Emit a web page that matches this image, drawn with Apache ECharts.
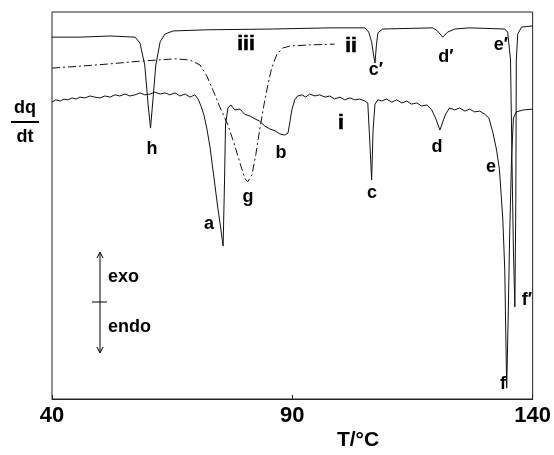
<!DOCTYPE html>
<html>
<head>
<meta charset="utf-8">
<script src="https://cdn.jsdelivr.net/npm/echarts@6/dist/echarts.min.js"></script>
<style>
  html, body { margin: 0; padding: 0; background: #fff; }
  #dsc { width: 554px; height: 455px; }
</style>
</head>
<body>
<div id="dsc"></div>
<script>
var xTicks = [40, 90, 140];

// curve i: [T (°C), dq/dt (arb.)]
var curveI = [
  [40.0, 76.7], [40.8, 77.3], [41.7, 77.0], [42.5, 77.5], [43.3, 77.3], [44.2, 77.8],
  [45.0, 77.5], [45.8, 78.0], [46.9, 77.8], [47.9, 78.3], [48.9, 78.0], [50.0, 77.8],
  [51.0, 78.3], [52.1, 78.0], [53.1, 78.6], [54.1, 78.3], [55.2, 78.8], [56.2, 78.3],
  [57.3, 78.6], [58.3, 79.1], [59.3, 78.6], [60.4, 78.8], [61.4, 79.3], [62.5, 78.8],
  [63.5, 79.1], [64.5, 78.6], [65.6, 79.1], [66.6, 78.3], [67.7, 78.8], [68.7, 78.0],
  [69.7, 78.6], [70.4, 77.5], [71.0, 75.7], [71.6, 73.4], [72.2, 70.0], [72.9, 64.9],
  [73.7, 57.1], [74.5, 49.4], [75.1, 44.2], [75.6, 39.5], [75.9, 56.6], [76.1, 70.8],
  [76.6, 75.2], [77.2, 76.0], [78.0, 74.7], [79.1, 74.9], [80.1, 73.6], [81.2, 73.1],
  [82.2, 72.4], [83.2, 71.8], [84.3, 70.5], [85.3, 69.8], [86.4, 69.3], [87.4, 68.5],
  [88.4, 68.2], [89.1, 68.7], [89.5, 71.6], [89.9, 74.7], [90.5, 77.3], [91.1, 78.3],
  [92.0, 78.6], [92.8, 78.0], [93.6, 78.8], [94.7, 78.3], [95.7, 78.6], [96.8, 78.0],
  [97.8, 78.3], [98.8, 77.5], [99.9, 78.0], [100.9, 77.3], [102.0, 77.8], [103.0, 77.3],
  [104.0, 77.5], [105.1, 77.0], [105.7, 76.5], [106.1, 66.9], [106.5, 56.6], [106.8, 69.5],
  [107.2, 76.2], [107.8, 77.3], [108.6, 77.0], [109.6, 77.5], [110.7, 76.7], [111.7, 77.3],
  [112.8, 76.5], [113.8, 77.0], [114.8, 76.2], [115.9, 76.5], [116.9, 75.7], [118.0, 76.0],
  [119.0, 74.7], [119.8, 72.6], [120.7, 69.5], [121.3, 71.6], [121.9, 73.6], [122.7, 75.2],
  [123.8, 74.7], [124.8, 75.2], [125.9, 74.4], [126.9, 74.9], [127.9, 74.2], [129.0, 74.4],
  [130.0, 73.6], [130.9, 72.6], [131.7, 69.0], [132.5, 64.3], [133.1, 59.2], [133.8, 46.3],
  [134.2, 33.3], [134.4, 17.8], [134.6, 2.8], [134.9, 20.4], [135.2, 41.1], [135.6, 61.8],
  [136.0, 72.6], [136.6, 74.2], [138.1, 74.7], [140.0, 74.9]
];

// curve ii
var curveII = [
  [40.0, 85.5], [45.8, 86.0], [52.1, 86.6], [58.3, 87.3], [65.6, 87.9], [68.7, 87.6],
  [70.8, 86.3], [72.2, 83.5], [73.5, 79.8], [74.9, 75.5], [76.6, 70.8], [78.0, 65.6],
  [79.1, 61.0], [80.1, 57.1], [80.7, 56.1], [81.6, 57.9], [82.4, 63.1], [83.2, 69.5],
  [84.1, 76.0], [84.9, 81.1], [85.7, 85.5], [86.8, 89.1], [88.0, 90.7], [89.5, 91.2],
  [93.6, 91.5], [98.8, 91.7]
];

// curve iii
var curveIII = [
  [40.0, 93.5], [45.8, 93.5], [52.1, 93.8], [57.3, 93.5], [58.3, 92.0], [59.3, 86.3],
  [60.0, 76.0], [60.5, 70.0], [61.0, 77.3], [61.6, 86.3], [62.5, 92.3], [63.5, 94.3],
  [65.2, 95.1], [72.2, 95.4], [85.9, 95.6], [97.8, 95.9], [105.1, 95.9], [105.9, 94.8],
  [106.5, 92.3], [106.9, 88.9], [107.2, 86.8], [107.5, 91.5], [107.8, 94.6], [108.8, 95.6],
  [119.2, 95.9], [120.2, 95.1], [121.3, 93.5], [122.3, 94.8], [123.8, 95.6], [126.9, 95.9],
  [134.2, 95.6], [134.8, 94.8], [135.2, 94.6], [135.4, 87.6], [135.7, 61.8], [136.0, 38.5],
  [136.3, 23.8], [136.5, 51.4], [136.6, 87.6], [136.9, 94.3], [137.7, 96.1], [140.0, 96.4]
];

var curveLabels = [
  ['iii', 246, 44], ['ii', 351, 46], ['i', 341, 123]
];
var peakLabels = [
  ['h', 152, 149], ['a', 209, 224], ['g', 248, 197], ['b', 281, 153],
  ['c', 372, 193], ['c\u2032', 376, 70], ['d', 437, 147], ['d\u2032', 446, 57],
  ['e', 491, 167], ['e\u2032', 501, 45], ['f', 503, 384], ['f\u2032', 527, 300]
];

var FAMILY = '"Liberation Sans", Arial, sans-serif';
var FONT = 'bold 18px ' + FAMILY;
var BIG = 'bold 21px ' + FAMILY;

var chart = echarts.init(document.getElementById('dsc'));

var graphics = [];
curveLabels.forEach(function (l) {
  graphics.push({
    type: 'text',
    style: { text: l[0], x: l[1], y: l[2], fill: '#000', font: BIG, textAlign: 'center', textVerticalAlign: 'middle', stroke: '#000', lineWidth: 0.6 }
  });
});
peakLabels.forEach(function (l) {
  graphics.push({
    type: 'text',
    style: { text: l[0], x: l[1], y: l[2], fill: '#000', font: FONT, textAlign: 'center', textVerticalAlign: 'middle' }
  });
});
// dq/dt
graphics.push(
  { type: 'text', style: { text: 'dq', x: 25, y: 108, fill: '#000', font: FONT, textAlign: 'center', textVerticalAlign: 'middle' } },
  { type: 'line', shape: { x1: 11, y1: 122, x2: 39, y2: 122 }, style: { stroke: '#000', lineWidth: 2 } },
  { type: 'text', style: { text: 'dt', x: 25, y: 137, fill: '#000', font: FONT, textAlign: 'center', textVerticalAlign: 'middle' } }
);
// exo / endo arrow
graphics.push(
  { type: 'line', shape: { x1: 100, y1: 253, x2: 100, y2: 352 }, style: { stroke: '#000', lineWidth: 1 } },
  { type: 'line', shape: { x1: 92, y1: 302, x2: 107, y2: 302 }, style: { stroke: '#000', lineWidth: 1 } },
  { type: 'polyline', shape: { points: [[97, 258], [100, 252], [103, 258]] }, style: { stroke: '#000', lineWidth: 1, fill: null } },
  { type: 'polyline', shape: { points: [[97, 347], [100, 353], [103, 347]] }, style: { stroke: '#000', lineWidth: 1, fill: null } },
  { type: 'text', style: { text: 'exo', x: 108, y: 277, fill: '#000', font: FONT, textAlign: 'left', textVerticalAlign: 'middle' } },
  { type: 'text', style: { text: 'endo', x: 108, y: 327, fill: '#000', font: FONT, textAlign: 'left', textVerticalAlign: 'middle' } },
  { type: 'text', style: { text: 'T/\u00B0C', x: 358, y: 440, fill: '#000', font: BIG, textAlign: 'center', textVerticalAlign: 'middle' } }
);

function lineSeries(name, data, type) {
  return {
    name: name,
    type: 'line',
    data: data,
    showSymbol: false,
    symbol: 'none',
    lineStyle: { color: '#111', width: 1, type: type },
    silent: true
  };
}

chart.setOption({
  animation: false,
  backgroundColor: '#fff',
  grid: { left: 52, right: 21, top: 12, bottom: 56, show: true, borderColor: '#222', borderWidth: 1 },
  xAxis: {
    type: 'value',
    min: xTicks[0],
    max: xTicks[xTicks.length - 1],
    interval: xTicks[1] - xTicks[0],
    axisLine: { show: true, lineStyle: { color: '#222', width: 1 } },
    axisTick: { show: true, inside: true, length: 4, lineStyle: { color: '#222' } },
    axisLabel: { color: '#000', fontSize: 22, fontWeight: 'bold', fontFamily: FAMILY, margin: 6 },
    splitLine: { show: false }
  },
  yAxis: {
    type: 'value',
    min: 0,
    max: 100,
    axisLine: { show: false },
    axisTick: { show: false },
    axisLabel: { show: false },
    splitLine: { show: false }
  },
  series: [
    lineSeries('i', curveI, 'solid'),
    lineSeries('ii', curveII, [8, 3, 2, 3]),
    lineSeries('iii', curveIII, 'solid')
  ],
  graphic: graphics
});
</script>
</body>
</html>
